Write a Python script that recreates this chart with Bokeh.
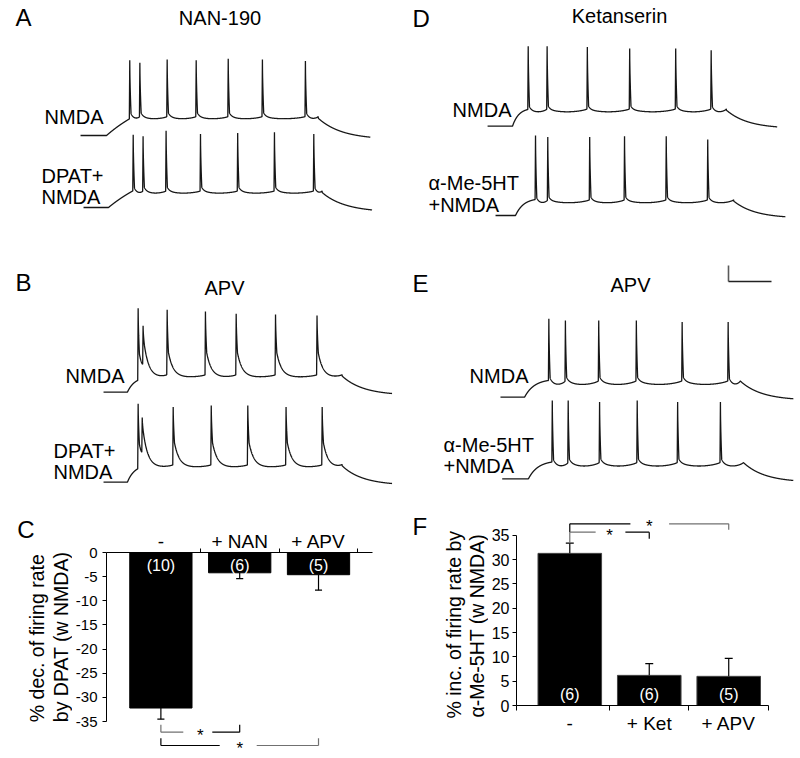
import numpy as np
from bokeh.plotting import figure
from bokeh.models import Range1d, Label, FixedTicker
from bokeh.layouts import row, column
from bokeh.core.properties import value
from bokeh.embed import file_html
from bokeh.resources import INLINE

FONT = "Liberation Sans"

# ------------------------------------------------------------------ data
# Membrane-potential recordings (time in ms, voltage in mV)
V_REST = -65
# Panel A  (NAN-190)
A1_SPIKE_T = [564, 611, 738, 873, 1022, 1181, 1381]          # NMDA
A1_SPIKE_V = [29, 26, 30, 29, 31, 30, 28]
A1_EVENTS = [335, 456, 1441, 1683]      # start, ramp onset, offset, end
A1_LEVELS = [-44, -41, -70]             # ramp top, plateau, final
A2_SPIKE_T = [580, 626, 733, 893, 1066, 1237, 1420]          # DPAT+NMDA
A2_SPIKE_V = [26, 24, 31, 27, 28, 29, 27]
A2_EVENTS = [349, 465, 1459, 1691]
A2_LEVELS = [-44, -44, -71]
# Panel B  (APV)
B1_SPIKE_T = [603, 626, 738, 916, 1059, 1242, 1435]
B1_SPIKE_V = [40, 18, 38, 36, 33, 32, 31]
B1_EVENTS = [442, 553, 1552, 1784]
B1_LEVELS = [-50, -43, -69]
B2_SPIKE_T = [603, 622, 766, 943, 1113, 1291, 1459]
B2_SPIKE_V = [33, 16, 29, 31, 31, 29, 29]
B2_EVENTS = [442, 553, 1552, 1784]
B2_LEVELS = [-48, -43, -69]
# Panel D  (Ketanserin)
D1_SPIKE_T = [594, 682, 869, 1066, 1280, 1445]
D1_SPIKE_V = [35, 35, 34, 32, 32, 30]
D1_EVENTS = [405, 521, 1516, 1752]
D1_LEVELS = [-44, -43, -68]
D2_SPIKE_T = [628, 685, 880, 1042, 1236, 1429]
D2_SPIKE_V = [35, 33, 33, 34, 34, 30]
D2_EVENTS = [442, 535, 1550, 1790]
D2_LEVELS = [-45, -45, -68.5]
# Panel E  (APV)
E1_SPIKE_T = [690, 767, 922, 1097, 1310, 1524]
E1_SPIKE_V = [33, 31, 31, 31, 29, 29]
E1_EVENTS = [465, 577, 1581, 1827]
E1_LEVELS = [-44, -44, -69]
E2_SPIKE_T = [706, 780, 926, 1101, 1289, 1488]
E2_SPIKE_V = [33, 33, 31, 33, 31, 31]
E2_EVENTS = [473, 595, 1596, 1827]
E2_LEVELS = [-44, -44, -69.5]

SCALE_MS = 200
SCALE_MV = 20

# Panel C: % decrease of firing rate by DPAT
C_CATS = ["-", "+ NAN", "+ APV"]
C_MEAN = [-32.2, -4.2, -4.6]
C_SEM = [2.3, 1.2, 3.2]
C_N = [10, 6, 5]
C_SIG = [(1, 2), (1, 3)]
C_YTICKS = [0, -5, -10, -15, -20, -25, -30, -35]

# Panel F: % increase of firing rate by alpha-Me-5HT
F_CATS = ["-", "+ Ket", "+ APV"]
F_MEAN = [31.3, 6.2, 6.0]
F_SEM = [2.1, 2.4, 3.7]
F_N = [6, 6, 5]
F_SIG = [(1, 3), (1, 2)]
F_YTICKS = [0, 5, 10, 15, 20, 25, 30, 35]

# ------------------------------------------------------------------ layout
KX = 200 / 43      # ms per pixel
KY = 20 / 16       # mV per pixel
RISE, FALL = 2.0, 6.0

SHAPES = {
    "A": dict(ramp_k=0.4, depth=3, shoulder=5, tau=12, notch=2.5, tau_off=110),
    "B": dict(ramp_k=1.5, depth=3, shoulder=28, tau=22, notch=2.0, tau_off=100),
    "D": dict(ramp_k=2.5, depth=4, shoulder=4, tau=10, notch=2.0, tau_off=100),
    "E": dict(ramp_k=2.5, depth=5, shoulder=5, tau=12, notch=1.0, tau_off=100),
}


def geom(left, top, w, h, fl=None, ft=None, fw=None, fh=None, xr=None,
         yr=None, origin=None):
    g = dict(left=left, top=top, w=w, h=h)
    g["fl"] = left if fl is None else fl
    g["ft"] = top if ft is None else ft
    g["fw"] = w if fw is None else fw
    g["fh"] = h if fh is None else fh
    o = left if origin is None else origin
    g["xr"] = ((left - o) * KX, (left + w - o) * KX) if xr is None else xr
    g["yr"] = (-h * KY, 0) if yr is None else yr
    return g


def to_data(g, px, py):
    x0, x1 = g["xr"]
    y0, y1 = g["yr"]
    return (x0 + (px - g["fl"]) / g["fw"] * (x1 - x0),
            y1 - (py - g["ft"]) / g["fh"] * (y1 - y0))


def lab(p, g, text, px, py, size="20px", align="left", angle=0.0,
        color="black"):
    """py = vertical centre of the capital letters"""
    x, y = to_data(g, px, py)
    p.add_layout(Label(x=x, y=y, text=text, text_font=FONT,
                       text_font_size=size, text_align=align,
                       text_baseline="middle", angle=angle,
                       text_color=color))


def no_align(p):
    try:
        p.frame_align = False
    except Exception:
        pass


def make_trace(spk_t, spk_v, events, levels, shape):
    t0, t_on, t_off, t_end = events
    v_top, v_thr, v_fin = levels
    t = np.arange(t0, t_end + 0.25, 0.5)
    base = np.full(t.shape, float(V_REST))
    first = spk_t[0]
    m = (t >= t_on) & (t < first)
    s = (t[m] - t_on) / (first - t_on)
    k = shape["ramp_k"]
    base[m] = V_REST + (v_top - V_REST) * (1 - np.exp(-k * s)) / (1 - np.exp(-k))
    edges = list(spk_t) + [t_off]
    for a, b in zip(edges[:-1], edges[1:]):
        m = (t >= a) & (t < b)
        s = (t[m] - a) / (b - a)
        base[m] = v_thr - shape["depth"] * np.sin(np.pi * s) ** 0.6
    m = t >= t_off
    dt = t[m] - t_off
    start = v_thr - shape["notch"]
    base[m] = v_fin + (start - v_fin) * np.exp(-dt / shape["tau_off"])
    v = base.copy()
    for tk in spk_t:
        m = t >= tk + FALL
        v[m] += shape["shoulder"] * np.exp(-(t[m] - tk - FALL) / shape["tau"])
    for tk, pk in zip(spk_t, spk_v):
        i_pre = int(np.searchsorted(t, tk - RISE))
        i_pk = int(np.searchsorted(t, tk))
        i_post = int(np.searchsorted(t, tk + FALL))
        v_pre, v_post = v[i_pre], v[i_post]
        v[i_pre:i_pk] = np.linspace(v_pre, pk, i_pk - i_pre, endpoint=False)
        frac = np.linspace(0, 1, i_post - i_pk, endpoint=False)
        v[i_pk:i_post] = pk + (v_post - pk) * frac ** 0.6
    return t, v


def plain_fig(g):
    p = figure(width=g["w"], height=g["h"],
               x_range=Range1d(*g["xr"]), y_range=Range1d(*g["yr"]),
               output_backend="svg", toolbar_location=None,
               x_axis_location=None, y_axis_location=None, min_border=0,
               min_border_left=0, min_border_right=0, min_border_top=0,
               min_border_bottom=0)
    p.grid.visible = False
    p.outline_line_color = None
    p.background_fill_color = "white"
    no_align(p)
    return p


def add_trace(p, g, base_py, spk_t, spk_v, events, levels, shape):
    t, v = make_trace(spk_t, spk_v, events, levels, shape)
    off = -(base_py - g["top"]) * KY - V_REST
    p.line(t, v + off, line_color="#161616", line_width=1.3)


# ------------------------------------------------------------------ traces
gA = geom(0, 0, 400, 270, origin=8)
gB = geom(0, 270, 400, 240, origin=8)
gD = geom(400, 0, 400, 260, origin=400)
gE = geom(400, 260, 400, 250, origin=400)

pA = plain_fig(gA)
add_trace(pA, gA, 135, A1_SPIKE_T, A1_SPIKE_V, A1_EVENTS, A1_LEVELS, SHAPES["A"])
add_trace(pA, gA, 207, A2_SPIKE_T, A2_SPIKE_V, A2_EVENTS, A2_LEVELS, SHAPES["A"])
lab(pA, gA, "A", 15, 17.4, size="24px")
lab(pA, gA, "NAN-190", 219.5, 17.8, align="center")
lab(pA, gA, "NMDA", 103, 116.8, align="right")
lab(pA, gA, "DPAT+", 41, 175.5)
lab(pA, gA, "NMDA", 41, 196.8)

pB = plain_fig(gB)
add_trace(pB, gB, 391.7, B1_SPIKE_T, B1_SPIKE_V, B1_EVENTS, B1_LEVELS, SHAPES["B"])
add_trace(pB, gB, 481.7, B2_SPIKE_T, B2_SPIKE_V, B2_EVENTS, B2_LEVELS, SHAPES["B"])
lab(pB, gB, "B", 15, 282.1, size="24px")
lab(pB, gB, "APV", 224, 287.8, align="center")
lab(pB, gB, "NMDA", 124, 375.8, align="right")
lab(pB, gB, "DPAT+", 53, 450.8)
lab(pB, gB, "NMDA", 53, 471.3)

pD = plain_fig(gD)
add_trace(pD, gD, 125.7, D1_SPIKE_T, D1_SPIKE_V, D1_EVENTS, D1_LEVELS, SHAPES["D"])
add_trace(pD, gD, 215, D2_SPIKE_T, D2_SPIKE_V, D2_EVENTS, D2_LEVELS, SHAPES["D"])
lab(pD, gD, "D", 412, 18.4, size="24px")
lab(pD, gD, "Ketanserin", 619, 15.8, align="center")
lab(pD, gD, "NMDA", 511, 109.3, align="right")
lab(pD, gD, "\u03b1-Me-5HT", 428, 182.8)
lab(pD, gD, "+NMDA", 428, 204.5)

pE = plain_fig(gE)
add_trace(pE, gE, 396.7, E1_SPIKE_T, E1_SPIKE_V, E1_EVENTS, E1_LEVELS, SHAPES["E"])
add_trace(pE, gE, 478.3, E2_SPIKE_T, E2_SPIKE_V, E2_EVENTS, E2_LEVELS, SHAPES["E"])
lab(pE, gE, "E", 412, 283.4, size="24px")
lab(pE, gE, "APV", 630, 284.8, align="center")
lab(pE, gE, "NMDA", 528, 375.8, align="right")
lab(pE, gE, "\u03b1-Me-5HT", 443, 444.8)
lab(pE, gE, "+NMDA", 443, 465.8)
# scale bar
sx, sy = to_data(gE, 728, 281)
pE.line([sx, sx], [sy, sy + SCALE_MV], line_color="#5a5a5a", line_width=1.6)
pE.line([sx, sx + SCALE_MS], [sy, sy], line_color="#222222", line_width=1.3)


# ------------------------------------------------------------------ bar charts
def style_axis(ax, size):
    ax.major_tick_in = 0
    ax.minor_tick_in = 0
    ax.minor_tick_out = 0
    ax.axis_line_color = "black"
    ax.major_tick_line_color = "black"
    ax.minor_tick_line_color = "black"
    ax.axis_line_width = 1
    ax.major_label_text_font = FONT
    ax.major_label_text_font_size = size
    ax.major_label_text_color = "black"


def cat_axis(ax, cats, seps, tick_len, standoff):
    style_axis(ax, "19px")
    ax.ticker = FixedTicker(ticks=list(range(1, len(cats) + 1)),
                            minor_ticks=seps)
    ax.major_label_overrides = {i + 1: c for i, c in enumerate(cats)}
    ax.major_tick_out = 0
    ax.minor_tick_out = tick_len
    ax.major_label_standoff = standoff


def val_axis(ax, ticks, size, standoff):
    style_axis(ax, size)
    ax.ticker = FixedTicker(ticks=ticks)
    ax.bounds = (min(ticks), max(ticks))
    ax.major_label_overrides = {t: str(t) for t in ticks}
    ax.major_tick_out = 4
    ax.major_label_standoff = standoff


def sig_brackets(p, g, pairs, levels, legs, colors, gaps, star_center):
    for (a, b), lvl, (lg_a, lg_b), (ca, cb), (ga, gb), sc in zip(
            pairs, levels, legs, colors, gaps, star_center):
        _, y = to_data(g, 0, lvl)
        _, ya = to_data(g, 0, lg_a)
        _, yb = to_data(g, 0, lg_b)
        xa_px = g["fl"] + (a - g["xr"][0]) / (g["xr"][1] - g["xr"][0]) * g["fw"]
        xb_px = g["fl"] + (b - g["xr"][0]) / (g["xr"][1] - g["xr"][0]) * g["fw"]
        mid = (xa_px + xb_px) / 2
        xl, _ = to_data(g, mid - ga, 0)
        xr_, _ = to_data(g, mid + gb, 0)
        p.segment(x0=[a, a], y0=[ya, y], x1=[a, xl], y1=[y, y],
                  line_color=ca, line_width=1.2)
        p.segment(x0=[xr_, b], y0=[y, y], x1=[b, b], y1=[y, yb],
                  line_color=cb, line_width=1.2)
        lab(p, g, "*", mid, sc + 3, size="17px", align="center")


GRAY = "#707070"

# ---- panel C (text strip + chart)
gCt = geom(0, 510, 72, 248)
pCt = plain_fig(gCt)
lab(pCt, gCt, "C", 16.7, 529.4, size="24px")
lab(pCt, gCt, "% dec. of firing rate", 36, 721.7, size="19.5px",
    angle=np.pi / 2)
lab(pCt, gCt, "by DPAT (w NMDA)", 60, 721.7, size="19.5px", angle=np.pi / 2)

gC = geom(72, 510, 328, 248, fl=106, ft=552, fw=266, fh=206,
          xr=(0.31, 3.685), yr=(-42.65, 0))
pC = figure(width=328, height=248, x_range=Range1d(*gC["xr"]),
            y_range=Range1d(*gC["yr"]), output_backend="svg",
            toolbar_location=None, x_axis_location="above",
            min_border_left=34, min_border_right=28, min_border_top=42,
            min_border_bottom=0)
no_align(pC)
pC.grid.visible = False
pC.outline_line_color = None
xc = np.arange(1, len(C_CATS) + 1)
cm = np.array(C_MEAN)
ce = cm - np.array(C_SEM)
pC.vbar(x=xc, top=cm, bottom=0, width=0.79, fill_color="black",
        line_color="black")
pC.segment(x0=xc, y0=cm, x1=xc, y1=ce, line_color="black", line_width=1.2)
pC.segment(x0=xc - 0.045, y0=ce, x1=xc + 0.045, y1=ce, line_color="black",
           line_width=1.2)
_, ny = to_data(gC, 0, 564.5)
pC.text(x=xc, y=[ny] * len(xc), text=["(%d)" % n for n in C_N],
        text_color="white", text_font=value(FONT),
        text_font_size=value("16px"), text_align="center",
        text_baseline="middle")
val_axis(pC.yaxis[0], C_YTICKS, "15px", 5)
cat_axis(pC.xaxis[0], C_CATS, [1.5, 2.5, 3.5], 4, -3)
sig_brackets(pC, gC, C_SIG, [731.7, 745], [(724.3, 724.3), (737.7, 737.7)],
             [(GRAY, "black"), ("black", GRAY)], [(17, 12), (20, 17)],
             [731.5, 744.5])

# ---- panel F (text strip + chart)
gFt = geom(400, 510, 88, 248)
pFt = plain_fig(gFt)
lab(pFt, gFt, "F", 412, 526.4, size="24px")
lab(pFt, gFt, "% inc. of firing rate by", 453.7, 718, size="19.5px",
    angle=np.pi / 2)
lab(pFt, gFt, "\u03b1-Me-5HT (w NMDA)", 476.5, 717, size="19.5px",
    angle=np.pi / 2)

gF = geom(488, 510, 312, 248, fl=514, ft=510, fw=254, fh=195,
          xr=(0.3295, 3.5005), yr=(0, 40.12))
pF = figure(width=312, height=248, x_range=Range1d(*gF["xr"]),
            y_range=Range1d(*gF["yr"]), output_backend="svg",
            toolbar_location=None, x_axis_location="below",
            min_border_left=26, min_border_right=32, min_border_top=0,
            min_border_bottom=53)
no_align(pF)
pF.grid.visible = False
pF.outline_line_color = None
xf = np.arange(1, len(F_CATS) + 1)
fm = np.array(F_MEAN)
fe = fm + np.array(F_SEM)
pF.vbar(x=xf, top=fm, bottom=0, width=0.80, fill_color="black",
        line_color="#444444")
pF.segment(x0=xf, y0=fm, x1=xf, y1=fe, line_color="black", line_width=1.2)
pF.segment(x0=xf - 0.05, y0=fe, x1=xf + 0.05, y1=fe, line_color="black",
           line_width=1.2)
_, ny = to_data(gF, 0, 694.4)
pF.text(x=xf, y=[ny] * len(xf), text=["(%d)" % n for n in F_N],
        text_color="white", text_font=value(FONT),
        text_font_size=value("16px"), text_align="center",
        text_baseline="middle")
val_axis(pF.yaxis[0], F_YTICKS, "16px", 3)
cat_axis(pF.xaxis[0], F_CATS, [0.33, 1.5, 2.5, 3.5], 5, 2)
sig_brackets(pF, gF, F_SIG, [523.3, 531.7], [(531.7, 529.3), (542.7, 538.3)],
             [("black", GRAY), (GRAY, "black")], [(19, 20), (14, 16)],
             [522.5, 531.5])

layout = row(column(pA, pB, row(pCt, pC)), column(pD, pE, row(pFt, pF)))
open("out.html", "w").write(file_html(layout, INLINE))
